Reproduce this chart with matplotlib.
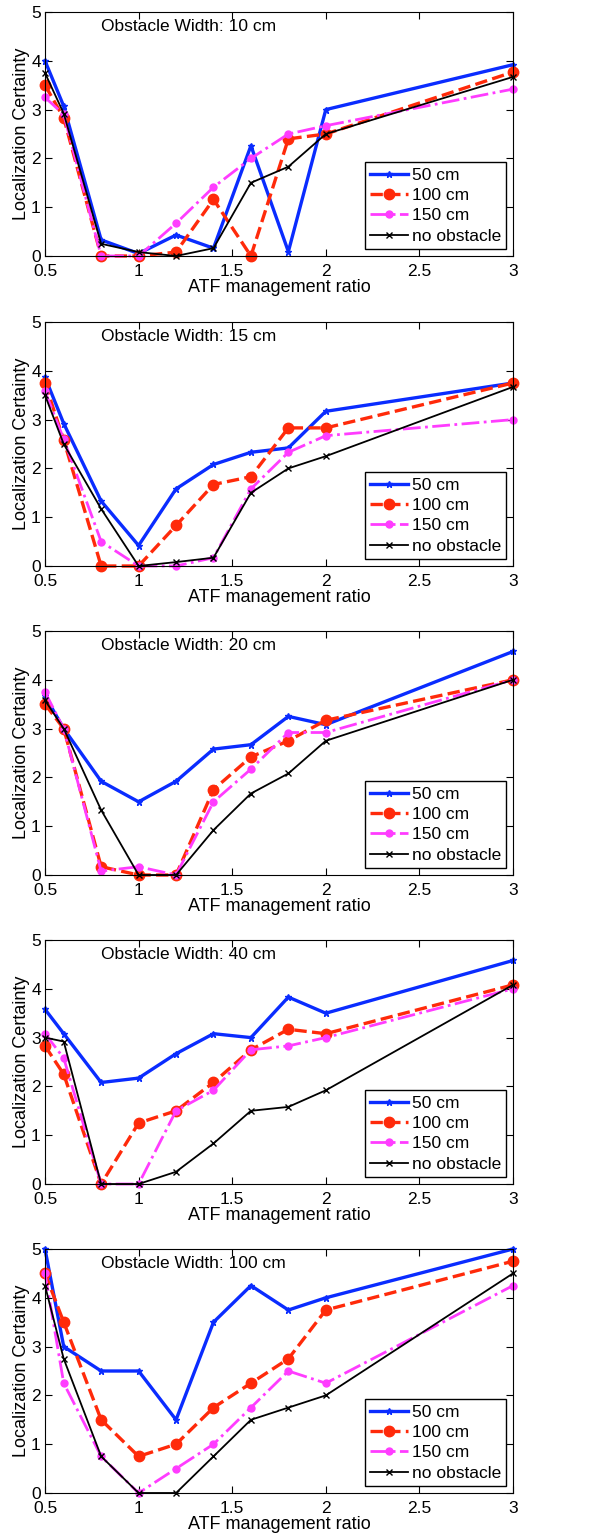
import matplotlib
matplotlib.use("Agg")
import matplotlib.pyplot as plt

plt.rcParams["font.family"] = ["Liberation Sans", "DejaVu Sans"]

ratio = [0.5, 0.6, 0.8, 1.0, 1.2, 1.4, 1.6, 1.8, 2.0, 3.0]
widths = ["10 cm", "15 cm", "20 cm", "40 cm", "100 cm"]
series_labels = ["50 cm", "100 cm", "150 cm", "no obstacle"]

# one list per obstacle width: [50 cm, 100 cm, 150 cm, no obstacle]
w10 = [
    [4.0, 3.07, 0.33, 0.05, 0.43, 0.16, 2.26, 0.09, 3.0, 3.92],
    [3.5, 2.83, 0.0, 0.0, 0.08, 1.16, 0.0, 2.4, 2.5, 3.77],
    [3.25, 2.9, 0.0, 0.0, 0.67, 1.41, 2.0, 2.5, 2.67, 3.42],
    [3.75, 2.92, 0.25, 0.08, 0.0, 0.16, 1.5, 1.83, 2.5, 3.67],
]
w15 = [
    [3.87, 2.92, 1.33, 0.42, 1.58, 2.08, 2.33, 2.42, 3.17, 3.75],
    [3.75, 2.58, 0.0, 0.0, 0.83, 1.67, 1.83, 2.83, 2.83, 3.75],
    [3.58, 2.6, 0.5, 0.0, 0.0, 0.17, 1.58, 2.33, 2.67, 3.0],
    [3.5, 2.5, 1.17, 0.0, 0.08, 0.17, 1.5, 2.0, 2.25, 3.67],
]
w20 = [
    [3.67, 3.0, 1.92, 1.5, 1.92, 2.58, 2.67, 3.25, 3.08, 4.58],
    [3.5, 3.0, 0.17, 0.0, 0.0, 1.75, 2.42, 2.75, 3.17, 4.0],
    [3.75, 3.0, 0.08, 0.17, 0.0, 1.5, 2.17, 2.92, 2.92, 4.0],
    [3.58, 3.0, 1.33, 0.0, 0.0, 0.92, 1.67, 2.08, 2.75, 4.0],
]
w40 = [
    [3.58, 3.08, 2.08, 2.17, 2.67, 3.08, 3.0, 3.83, 3.5, 4.58],
    [2.83, 2.25, 0.0, 1.25, 1.5, 2.08, 2.75, 3.17, 3.08, 4.08],
    [3.08, 2.58, 0.0, 0.0, 1.5, 1.92, 2.75, 2.83, 3.0, 4.0],
    [3.0, 2.92, 0.0, 0.0, 0.25, 0.83, 1.5, 1.58, 1.92, 4.08],
]
w100 = [
    [5.0, 3.0, 2.5, 2.5, 1.5, 3.5, 4.25, 3.75, 4.0, 5.0],
    [4.5, 3.5, 1.5, 0.75, 1.0, 1.75, 2.25, 2.75, 3.75, 4.75],
    [4.5, 2.25, 0.75, 0.0, 0.5, 1.0, 1.75, 2.5, 2.25, 4.25],
    [4.25, 2.75, 0.75, 0.0, 0.0, 0.75, 1.5, 1.75, 2.0, 4.5],
]
panels = [w10, w15, w20, w40, w100]

styles = [
    dict(color="#0a2cff", ls="-", lw=2.4, marker="*", ms=5),
    dict(color="#ff2a0a", ls="--", lw=2.4, marker="o", ms=7.5),
    dict(color="#ff3cff", ls="-.", lw=2.0, marker="o", ms=5),
    dict(color="black", ls="-", lw=1.3, marker="x", ms=4),
]

W, H = 613, 1540
tops = [12, 322, 631, 940, 1249]
ax_h = 244
left, right = 45, 513

fig = plt.figure(figsize=(W / 100, H / 100), dpi=100)
for top, width, data in zip(tops, widths, panels):
    ax = fig.add_axes([left / W, 1 - (top + ax_h) / H, (right - left) / W, ax_h / H])
    for vals, lab, st in zip(data, series_labels, styles):
        ax.plot(ratio, vals, label=lab, clip_on=False, **st)
    ax.set_xlim(0.5, 3)
    ax.set_ylim(0, 5)
    ax.set_xticks([0.5, 1, 1.5, 2, 2.5, 3])
    ax.set_xticklabels(["0.5", "1", "1.5", "2", "2.5", "3"])
    ax.set_yticks(range(6))
    ax.tick_params(direction="in", top=True, right=True, labelsize=12.5, pad=3, length=5)
    ax.tick_params(axis="x", pad=6)
    ax.set_xlabel("ATF management ratio", fontsize=13, labelpad=0)
    ax.set_ylabel("Localization Certainty", fontsize=13, labelpad=1)
    ax.text(0.12, 0.94, f"Obstacle Width: {width}", transform=ax.transAxes,
            fontsize=12.5, va="center")
    leg = ax.legend(loc="lower right", fontsize=12.5, fancybox=False, framealpha=1,
                    edgecolor="black", borderaxespad=0.4, handlelength=2.2,
                    handletextpad=0.2, labelspacing=0.3, borderpad=0.3)
    leg.get_frame().set_linewidth(1.0)

fig.savefig("out.png", dpi=100)
